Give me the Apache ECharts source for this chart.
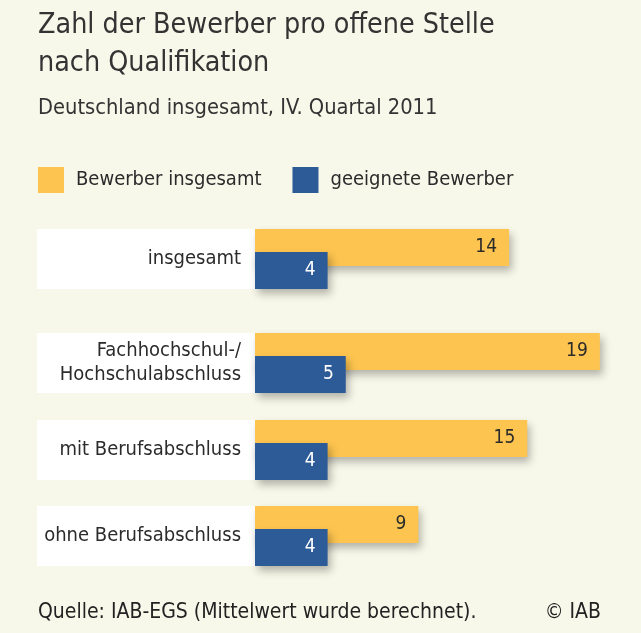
<!DOCTYPE html>
<html>
<head>
<meta charset="utf-8">
<style>
  html, body { margin: 0; padding: 0; background: #f8f8ea; }
  #chart { width: 641px; height: 633px; }
</style>
<script src="https://cdn.jsdelivr.net/npm/echarts@6/dist/echarts.min.js"></script>
</head>
<body>
<div id="chart"></div>
<script>
const categories = ['insgesamt', 'Fachhochschul-/\nHochschulabschluss', 'mit Berufsabschluss', 'ohne Berufsabschluss']
const bewerberInsgesamt = [14, 19, 15, 9]
const geeigneteBewerber = [4, 5, 4, 4]
const seriesNames = ['Bewerber insgesamt', 'geeignete Bewerber']

const font = "'DejaVu Sans Condensed', sans-serif"
const yellow = '#fdc44f'
const blue = '#2d5b97'
// top of each row (yellow bar top), one grid per row
const rowTops = [229, 333, 420, 506]

const chart = echarts.init(document.getElementById('chart'))

var grids = [], xAxes = [], yAxes = [], seriesList = []
categories.forEach((cat, i) => {
  grids.push({ left: 255, width: 363, top: rowTops[i], height: 60 })
  xAxes.push({
    gridIndex: i, type: 'value', min: 0, max: 20,
    show: false
  })
  yAxes.push({
    gridIndex: i, type: 'category', inverse: true,
    data: [cat],
    axisLine: { show: false },
    axisTick: { show: false },
    axisLabel: {
      margin: 0,
      align: 'right',
      backgroundColor: '#fff',
      width: 204,
      height: 60,
      padding: [0, 14, 0, 0],
      lineHeight: 24,
      fontFamily: font,
      fontSize: 20,
      color: '#2b2b2b'
    }
  })
  var shadow = { shadowColor: 'rgba(0,0,0,0.28)', shadowBlur: 8, shadowOffsetX: 3, shadowOffsetY: 5 }
  seriesList.push({
    name: seriesNames[0],
    type: 'bar',
    xAxisIndex: i, yAxisIndex: i,
    data: [bewerberInsgesamt[i]],
    barWidth: 37,
    barGap: '-38%',
    itemStyle: Object.assign({ color: yellow }, shadow),
    label: {
      show: true, position: 'insideRight', distance: 12,
      fontFamily: font, fontSize: 19, color: '#2b2b2b'
    }
  })
  seriesList.push({
    name: seriesNames[1],
    type: 'bar',
    xAxisIndex: i, yAxisIndex: i,
    data: [geeigneteBewerber[i]],
    barWidth: 37,
    barGap: '-38%',
    itemStyle: Object.assign({ color: blue }, shadow),
    label: {
      show: true, position: 'insideRight', distance: 12,
      fontFamily: font, fontSize: 19, color: '#fff'
    }
  })
})

chart.setOption({
  backgroundColor: '#f8f8ea',
  animation: false,
  title: [
    {
      text: 'Zahl der Bewerber pro offene Stelle\nnach Qualifikation',
      left: 33, top: 2,
      textStyle: { fontFamily: font, fontSize: 28.4, fontWeight: 'normal', color: '#333', lineHeight: 38 }
    },
    {
      text: 'Deutschland insgesamt, IV. Quartal 2011',
      left: 33, top: 92,
      textStyle: { fontFamily: font, fontSize: 21.7, fontWeight: 'normal', color: '#333' }
    },
    {
      text: 'Quelle: IAB-EGS (Mittelwert wurde berechnet).',
      left: 33, top: 597,
      textStyle: { fontFamily: font, fontSize: 21, fontWeight: 'normal', color: '#222' }
    },
    {
      text: '© IAB',
      right: 35, top: 597,
      textStyle: { fontFamily: font, fontSize: 21, fontWeight: 'normal', color: '#222' }
    }
  ],
  legend: {
    data: seriesNames,
    left: 33, top: 162,
    icon: 'rect',
    itemWidth: 26, itemHeight: 26,
    itemGap: 31,
    textStyle: { fontFamily: font, fontSize: 20, color: '#2b2b2b', padding: [0, 0, 0, 7] }
  },
  grid: grids,
  xAxis: xAxes,
  yAxis: yAxes,
  series: seriesList
})
</script>
</body>
</html>
